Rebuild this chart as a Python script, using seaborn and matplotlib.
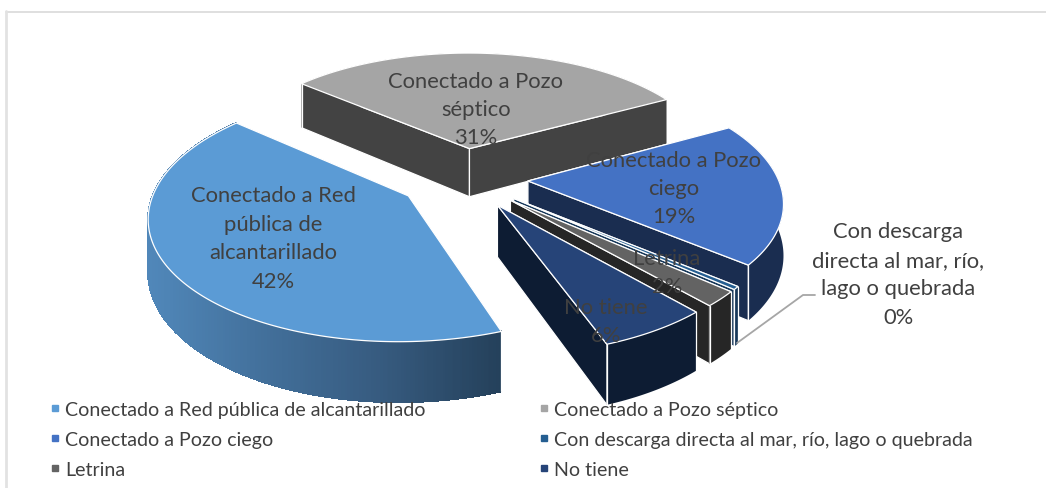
import numpy as np
import matplotlib
matplotlib.use("Agg")
import matplotlib.pyplot as plt
from matplotlib.lines import Line2D
import seaborn as sns

categorias = ["Conectado a Red pública de alcantarillado", "Conectado a Pozo séptico",
              "Conectado a Pozo ciego", "Con descarga directa al mar, río, lago o quebrada",
              "Letrina", "No tiene"]
valores = [41.8, 30.8, 19.0, 0.4, 2.0, 6.0]
colores_top = ["#5b9bd5", "#a5a5a5", "#4472c4", "#255e91", "#636363", "#264478"]
colores_lado = ["#3f6d96", "#434343", "#1a2d50", "#17385a", "#262626", "#0d1c33"]
etiquetas = ["Conectado a Red\npública de\nalcantarillado\n42%", "Conectado a Pozo\nséptico\n31%",
             "Conectado a Pozo\nciego\n19%", "Con descarga\ndirecta al mar, río,\nlago o quebrada\n0%",
             "Letrina\n2%", "No tiene\n6%"]
pos_etiquetas = [(273, 239), (476, 110), (674, 189), (898, 275), (667, 273), (606, 322)]

# parametros de la "camara" del pastel 3D
CX, CY = 463, 179
A, B = 250, 118
K = 0.15
PROF = 50
EXPLODE = 0.26
INICIO = 160  # grados desde el norte, sentido horario


def proyectar(x, y, z=0):
    s = 1 / (1 + K * y)
    return CX + A * x * s, CY - B * y * s + PROF * z * s


def dibujar_porcion(ax, a0, a1, top, lado, gradiente=None):
    med = np.radians((a0 + a1) / 2)
    ox, oy = EXPLODE * np.sin(med), EXPLODE * np.cos(med)
    t = np.radians(np.linspace(a0, a1, max(int(a1 - a0) * 3, 6)))
    xs = ox + np.sin(t)
    ys = oy + np.cos(t)

    px, py = proyectar(xs, ys)
    bx, by = proyectar(xs, ys, 1)
    apx, apy = proyectar(ox, oy)
    abx, aby = proyectar(ox, oy, 1)

    # paredes radiales
    for i in (0, -1):
        ax.fill([apx, px[i], bx[i], abx], [apy, py[i], by[i], aby], color=lado, ec="white", lw=0.9, zorder=z_actual[0])
    # pared exterior
    if gradiente is None:
        ax.fill(np.r_[px, bx[::-1]], np.r_[py, by[::-1]], color=lado, ec="none", zorder=z_actual[0])
    else:
        for i in range(len(px) - 1):
            frac = np.clip((px[i] - px.min()) / (px.max() - px.min()), 0, 1)
            c = gradiente[int(frac * (len(gradiente) - 1))]
            ax.fill([px[i], px[i + 1], bx[i + 1], bx[i]], [py[i], py[i + 1], by[i + 1], by[i]],
                    color=c, ec=c, lw=0.8, antialiased=False, zorder=z_actual[0])
    # borde blanco en las esquinas visibles
    for i in (0, -1):
        ax.plot([px[i], bx[i]], [py[i], by[i]], color="white", lw=0.9, zorder=z_actual[0])
    # cara superior
    ax.fill(np.r_[apx, px], np.r_[apy, py], color=top, ec="white", lw=0.9, zorder=z_actual[0] + 0.5)
    z_actual[0] += 1


sns.set_theme(style="white")
plt.rcParams["font.family"] = ["Lato", "DejaVu Sans"]

fig = plt.figure(figsize=(10.46, 4.89), dpi=100)
ax = fig.add_axes([0, 0, 1, 1])
ax.set_xlim(0, 1046)
ax.set_ylim(489, 0)
ax.axis("off")

# marco del grafico, solo arriba e izquierda
ax.plot([6, 1046], [12.5, 12.5], color="#d9d9d9", lw=1.2)
ax.plot([6, 6], [12, 489], color="#e2e2e2", lw=2)

total = sum(valores)
limites = INICIO + 360 * np.cumsum([0] + valores) / total
grad_rojo = sns.blend_palette(["#5087b9", "#426f9a", "#365a7e", "#24405a"], 120)

z_actual = [2]
# se pinta de atras hacia adelante
for i in [1, 0, 2, 3, 4, 5]:
    dibujar_porcion(ax, limites[i], limites[i + 1], colores_top[i], colores_lado[i],
                    gradiente=grad_rojo if i == 0 else None)

# linea guia de la etiqueta de 0%
ax.plot([737, 803, 815], [344, 296, 296], color="#a6a6a6", lw=1.3, zorder=30)

for txt, (x, y) in zip(etiquetas, pos_etiquetas):
    ax.text(x, y, txt, ha="center", va="center", fontsize=15.8, color="#404040",
            linespacing=1.53, zorder=40)

orden = [0, 2, 4, 1, 3, 5]
handles = [Line2D([], [], ls="none", marker="s", ms=4, color=colores_top[i]) for i in orden]
leg = ax.legend(handles, [categorias[i] for i in orden], ncol=2, frameon=False,
                loc="upper left", bbox_to_anchor=(0.0435, 0.178), fontsize=14.1,
                labelcolor="#404040", labelspacing=0.66, columnspacing=5.55,
                handletextpad=0.0, handlelength=1.0, borderpad=0, borderaxespad=0)
leg.set_zorder(50)

fig.savefig("out.png", dpi=100, facecolor="white")
